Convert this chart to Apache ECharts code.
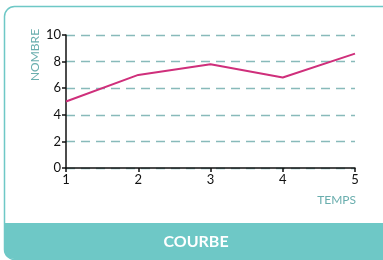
<!DOCTYPE html>
<html>
<head>
<meta charset="utf-8">
<script src="https://cdn.jsdelivr.net/npm/echarts@6/dist/echarts.min.js"></script>
<style>
  html, body { margin: 0; padding: 0; background: #fff; }
  #chart { width: 383px; height: 260px; }
</style>
</head>
<body>
<div id="chart"></div>
<script>
const temps = [1, 2, 3, 4, 5];
const nombre = [5, 7, 7.8, 6.8, 8.6];
const yTicks = [0, 2, 4, 6, 8, 10];

const teal = '#6ec8c6';
const chart = echarts.init(document.getElementById('chart'));

chart.setOption({
  animation: false,
  grid: { left: 66, right: 28, top: 35, bottom: 92 },
  xAxis: {
    type: 'value',
    min: temps[0],
    max: temps[temps.length - 1],
    interval: 1,
    axisLine: { lineStyle: { color: '#111', width: 1.5 } },
    axisTick: { show: true, length: 4, lineStyle: { color: '#111', width: 1.5 } },
    axisLabel: { color: '#111', fontSize: 13, fontFamily: 'Lato', margin: 5 },
    splitLine: { show: false }
  },
  yAxis: {
    type: 'value',
    min: yTicks[0],
    max: yTicks[yTicks.length - 1],
    interval: 2,
    axisLine: { show: true, lineStyle: { color: '#111', width: 1.5 } },
    axisTick: { show: true, length: 4, lineStyle: { color: '#111', width: 1.5 } },
    axisLabel: { color: '#111', fontSize: 13, fontFamily: 'Lato', margin: 5 },
    splitLine: { show: true, lineStyle: { color: '#88baba', type: [9, 6], width: 1.3 } }
  },
  series: [{
    type: 'line',
    data: temps.map((t, i) => [t, nombre[i]]),
    showSymbol: false,
    lineStyle: { color: '#cf2f7b', width: 2 },
    z: 3
  }],
  graphic: [
    {
      type: 'rect',
      shape: { x: 4.5, y: 6.5, width: 400, height: 253, r: 10 },
      style: { fill: 'none', stroke: teal, lineWidth: 1.5 },
      z: -1
    },
    {
      type: 'rect',
      shape: { x: 4, y: 223, width: 400, height: 36, r: [0, 0, 0, 10] },
      style: { fill: teal },
      z: -1
    },
    {
      type: 'text',
      x: 196, y: 242,
      style: {
        text: 'COURBE', fill: '#fff', fontSize: 16, fontWeight: 'bold',
        fontFamily: 'Lato', align: 'center', verticalAlign: 'middle'
      }
    },
    {
      type: 'text',
      x: 35, y: 55, rotation: Math.PI / 2,
      style: {
        text: 'NOMBRE', fill: '#6aaeae', fontSize: 12,
        fontFamily: 'Lato', align: 'center', verticalAlign: 'middle'
      }
    },
    {
      type: 'text',
      x: 356, y: 200,
      style: {
        text: 'TEMPS', fill: '#6aaeae', fontSize: 12,
        fontFamily: 'Lato', align: 'right', verticalAlign: 'middle'
      }
    }
  ]
});
</script>
</body>
</html>
